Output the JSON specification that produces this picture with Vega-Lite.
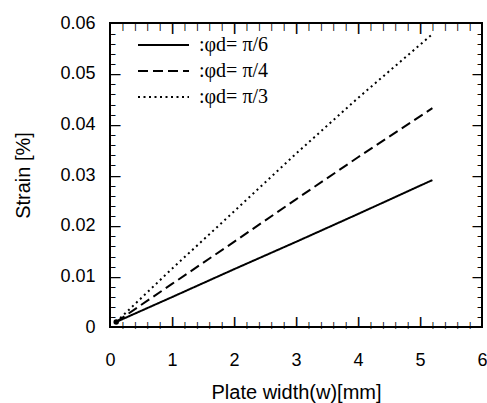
{
  "$schema": "https://vega.github.io/schema/vega-lite/v6.json",
  "autosize": "none",
  "width": 372,
  "height": 304,
  "padding": {"left": 110, "top": 23, "right": 5, "bottom": 76},
  "background": "white",
  "config": {
    "view": {"stroke": "black", "strokeWidth": 2},
    "axis": {
      "domain": false,
      "ticks": false,
      "grid": false,
      "zindex": 1,
      "labelColor": "black",
      "titleColor": "black",
      "labelFont": "Liberation Sans",
      "titleFont": "Liberation Sans",
      "labelFontSize": 18,
      "titleFontSize": 20,
      "titleFontWeight": "normal",
      "labelOverlap": false,
      "labelFlush": false,
      "labelBound": false
    }
  },
  "data": {
    "values": [
      {"series": ":φd= π/6", "w": 0.1, "strain": 0.001},
      {"series": ":φd= π/6", "w": 1, "strain": 0.0059},
      {"series": ":φd= π/6", "w": 2, "strain": 0.0114},
      {"series": ":φd= π/6", "w": 3, "strain": 0.0168},
      {"series": ":φd= π/6", "w": 4, "strain": 0.0223},
      {"series": ":φd= π/6", "w": 5.2, "strain": 0.029},
      {"series": ":φd= π/4", "w": 0.1, "strain": 0.001},
      {"series": ":φd= π/4", "w": 1, "strain": 0.0085},
      {"series": ":φd= π/4", "w": 2, "strain": 0.0168},
      {"series": ":φd= π/4", "w": 3, "strain": 0.0252},
      {"series": ":φd= π/4", "w": 4, "strain": 0.0335},
      {"series": ":φd= π/4", "w": 5.2, "strain": 0.0432},
      {"series": ":φd= π/3", "w": 0.1, "strain": 0.001},
      {"series": ":φd= π/3", "w": 1, "strain": 0.0115},
      {"series": ":φd= π/3", "w": 2, "strain": 0.0228},
      {"series": ":φd= π/3", "w": 3, "strain": 0.0342},
      {"series": ":φd= π/3", "w": 4, "strain": 0.0452},
      {"series": ":φd= π/3", "w": 5.2, "strain": 0.0578}
    ]
  },
  "resolve": {"axis": {"x": "independent", "y": "independent"}},
  "layer": [
    {
      "mark": {"type": "line", "color": "black", "strokeWidth": 2},
      "encoding": {
        "x": {
          "field": "w", "type": "quantitative",
          "scale": {"domain": [0, 6], "nice": false, "zero": false},
          "axis": {"orient": "bottom", "values": [0, 1, 2, 3, 4, 5, 6], "labelPadding": 24, "title": "Plate width(w)[mm]", "titlePadding": 13}
        },
        "y": {
          "field": "strain", "type": "quantitative",
          "scale": {"domain": [0, 0.06], "nice": false, "zero": false},
          "axis": {"orient": "left", "values": [0, 0.01, 0.02, 0.03, 0.04, 0.05, 0.06], "format": "~g", "labelPadding": 15, "title": "Strain [%]", "titlePadding": 26}
        },
        "strokeDash": {
          "field": "series", "type": "nominal",
          "scale": {"domain": [":φd= π/6", ":φd= π/4", ":φd= π/3"], "range": [[1, 0], [10, 5], [2, 3.5]]},
          "legend": {
            "title": null,
            "orient": "none",
            "legendX": 27,
            "legendY": 9,
            "symbolType": "stroke",
            "symbolSize": 2601,
            "symbolStrokeWidth": 2,
            "symbolStrokeColor": "black",
            "labelFont": "Liberation Serif",
            "labelFontSize": 20,
            "labelColor": "black",
            "labelOffset": 9,
            "clipHeight": 26,
            "rowPadding": 0
          }
        }
      }
    },
    {
      "transform": [{"filter": "datum.w == 0.1 && datum.series == ':φd= π/6'"}],
      "mark": {"type": "point", "filled": true, "color": "black", "size": 30, "opacity": 1},
      "encoding": {
        "x": {"field": "w", "type": "quantitative", "axis": null},
        "y": {"field": "strain", "type": "quantitative", "axis": null}
      }
    },
    {
      "mark": {"type": "line", "opacity": 0},
      "encoding": {
        "x": {"field": "w", "type": "quantitative", "axis": {"orient": "bottom", "values": [1, 2, 3, 4, 5], "labelExpr": "'|'", "labelFont": "Liberation Sans", "labelFontWeight": "bold", "labelFontSize": 11.5, "labelAlign": "center", "labelBaseline": "middle", "labelPadding": -5.5, "title": null}},
        "y": {"field": "strain", "type": "quantitative", "axis": {"orient": "left", "values": [0.01, 0.02, 0.03, 0.04, 0.05], "labelExpr": "'–'", "labelFont": "Liberation Sans", "labelFontSize": 18, "labelAlign": "center", "labelBaseline": "middle", "labelPadding": -5, "title": null}}
      }
    },
    {
      "mark": {"type": "line", "opacity": 0},
      "encoding": {
        "x": {"field": "w", "type": "quantitative", "axis": {"orient": "bottom", "values": [0.2,0.4,0.6,0.8,1.2,1.4,1.6,1.8,2.2,2.4,2.6,2.8,3.2,3.4,3.6,3.8,4.2,4.4,4.6,4.8,5.2,5.4,5.6,5.8], "labelExpr": "'|'", "labelFont": "Liberation Sans", "labelFontWeight": "bold", "labelFontSize": 6.5, "labelAlign": "center", "labelBaseline": "middle", "labelPadding": -3, "title": null}},
        "y": {"field": "strain", "type": "quantitative", "axis": {"orient": "left", "values": [0.002,0.004,0.006,0.008,0.012,0.014,0.016,0.018,0.022,0.024,0.026,0.028,0.032,0.034,0.036,0.038,0.042,0.044,0.046,0.048,0.052,0.054,0.056,0.058], "labelExpr": "'–'", "labelFont": "Liberation Sans", "labelFontWeight": "bold", "labelFontSize": 9.5, "labelAlign": "center", "labelBaseline": "middle", "labelPadding": -2.6, "title": null}}
      }
    },
    {
      "mark": {"type": "line", "opacity": 0},
      "encoding": {
        "x": {"field": "w", "type": "quantitative", "axis": {"orient": "top", "values": [1, 2, 3, 4, 5], "labelExpr": "'|'", "labelFont": "Liberation Sans", "labelFontWeight": "bold", "labelFontSize": 11.5, "labelAlign": "center", "labelBaseline": "middle", "labelPadding": -5.5, "title": null}},
        "y": {"field": "strain", "type": "quantitative", "axis": {"orient": "right", "values": [0.01, 0.02, 0.03, 0.04, 0.05], "labelExpr": "'–'", "labelFont": "Liberation Sans", "labelFontSize": 18, "labelAlign": "center", "labelBaseline": "middle", "labelPadding": -5, "title": null}}
      }
    },
    {
      "mark": {"type": "line", "opacity": 0},
      "encoding": {
        "x": {"field": "w", "type": "quantitative", "axis": {"orient": "top", "values": [0.2,0.4,0.6,0.8,1.2,1.4,1.6,1.8,2.2,2.4,2.6,2.8,3.2,3.4,3.6,3.8,4.2,4.4,4.6,4.8,5.2,5.4,5.6,5.8], "labelExpr": "'|'", "labelFont": "Liberation Sans", "labelFontWeight": "bold", "labelFontSize": 6.5, "labelAlign": "center", "labelBaseline": "middle", "labelPadding": -3, "title": null}},
        "y": {"field": "strain", "type": "quantitative", "axis": {"orient": "right", "values": [0.002,0.004,0.006,0.008,0.012,0.014,0.016,0.018,0.022,0.024,0.026,0.028,0.032,0.034,0.036,0.038,0.042,0.044,0.046,0.048,0.052,0.054,0.056,0.058], "labelExpr": "'–'", "labelFont": "Liberation Sans", "labelFontWeight": "bold", "labelFontSize": 9.5, "labelAlign": "center", "labelBaseline": "middle", "labelPadding": -2.6, "title": null}}
      }
    }
  ]
}
